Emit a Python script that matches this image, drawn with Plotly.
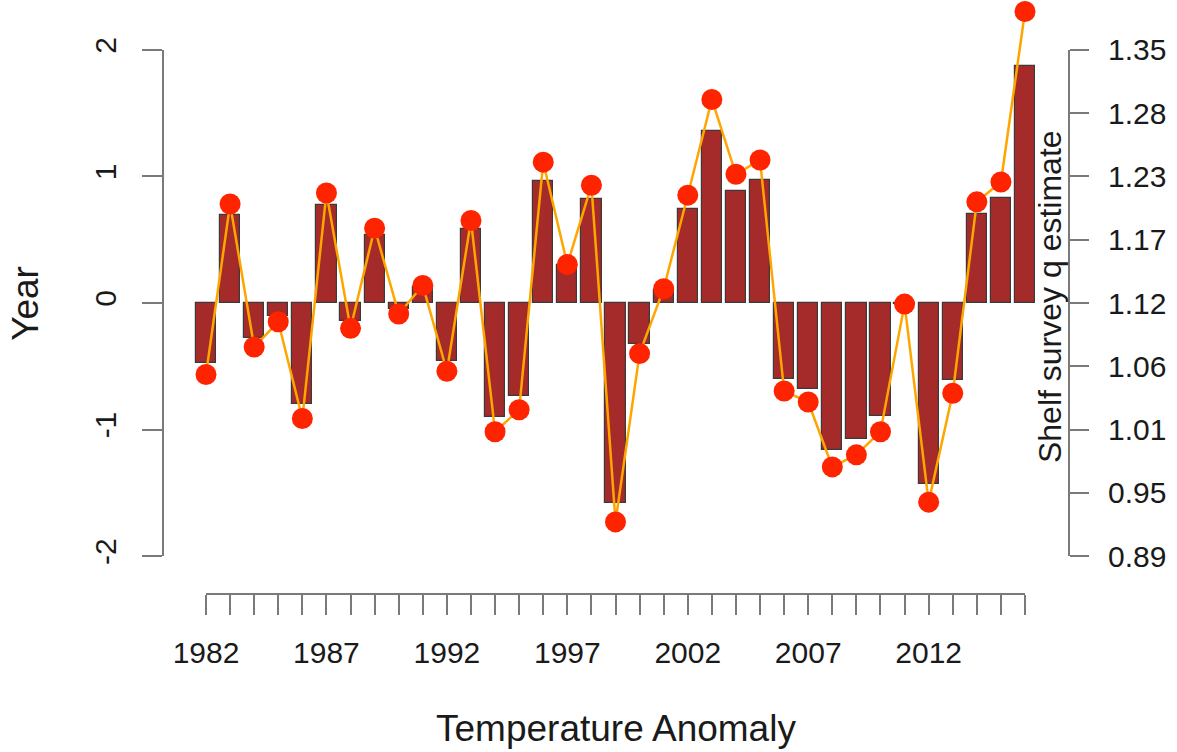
import plotly.graph_objects as go

# ---- data ----
years = list(range(1982, 2017))
temp_anomaly = [-0.475, 0.694, -0.277, -0.10, -0.80, 0.772, -0.146, 0.539, -0.044, 0.13,
                -0.46, 0.583, -0.897, -0.734, 0.967, 0.297, 0.82, -1.582, -0.32, 0.10,
                0.743, 1.363, 0.886, 0.973, -0.603, -0.676, -1.16, -1.072, -0.894, -0.01,
                -1.428, -0.612, 0.705, 0.83, 1.87]
q_estimate = [1.055, 1.210, 1.080, 1.103, 1.015, 1.220, 1.097, 1.188, 1.110, 1.136,
              1.058, 1.195, 1.003, 1.023, 1.248, 1.155, 1.227, 0.921, 1.074, 1.133,
              1.218, 1.305, 1.237, 1.250, 1.040, 1.030, 0.971, 0.982, 1.003, 1.119,
              0.939, 1.038, 1.212, 1.230, 1.385]
x_tick_labels = ["1982", "1987", "1992", "1997", "2002", "2007", "2012"]
left_tick_vals = [-2, -1, 0, 1, 2]
right_tick_labels = ["0.89", "0.95", "1.01", "1.06", "1.12", "1.17", "1.23", "1.28", "1.35"]

# ---- scales ----
L_MIN, L_MAX = -2.300, 2.395          # left axis visible range
Q_LO, Q_HI = 0.89, 1.35               # right axis values matching left -2..2
q_mid = (Q_LO + Q_HI) / 2
q_per_unit = (Q_HI - Q_LO) / 4
right_range = [q_mid + q_per_unit * L_MIN, q_mid + q_per_unit * L_MAX]
n_rt = len(right_tick_labels)
right_tick_vals = [Q_LO + (Q_HI - Q_LO) * i / (n_rt - 1) for i in range(n_rt)]

x_ticktext = [str(y) if str(y) in x_tick_labels else "" for y in years]

FONT = "Liberation Sans, Arial, Helvetica, sans-serif"
AX = "#7a7a7a"

fig = go.Figure()
fig.add_trace(go.Bar(
    x=years, y=temp_anomaly, width=0.84,
    marker=dict(color="#A52A2A", line=dict(color="#3a3a3a", width=1.2)),
    yaxis="y", showlegend=False, hoverinfo="x+y",
))
fig.add_trace(go.Scatter(
    x=years, y=q_estimate, mode="lines+markers", yaxis="y2",
    line=dict(color="#FFA500", width=2.5),
    marker=dict(color="#FF2400", size=21),
    showlegend=False,
))

fig.update_layout(
    width=1177, height=752,
    margin=dict(l=163, r=108, t=0, b=158),
    paper_bgcolor="white", plot_bgcolor="white",
    font=dict(family=FONT, size=30, color="#1a1a1a"),
    bargap=0,
    xaxis=dict(
        range=[1980.215, 2017.826], showgrid=False, zeroline=False, showline=False,
        tickmode="array", tickvals=years, ticktext=x_ticktext,
        ticks="outside", ticklen=20, tickwidth=2, tickcolor=AX,
        tickfont=dict(size=30), ticklabelstandoff=12,
    ),
    yaxis=dict(
        range=[L_MIN, L_MAX], showgrid=False, zeroline=False, showline=False,
        tickmode="array", tickvals=left_tick_vals, ticktext=[str(v) for v in left_tick_vals],
        ticks="outside", ticklen=20, tickwidth=2, tickcolor=AX,
        tickangle=-90, tickfont=dict(size=30), ticklabelstandoff=14,
    ),
    yaxis2=dict(
        range=right_range, overlaying="y", side="right",
        showgrid=False, zeroline=False, showline=False,
        tickmode="array", tickvals=right_tick_vals, ticktext=right_tick_labels,
        ticks="outside", ticklen=19, tickwidth=2, tickcolor=AX,
        tickfont=dict(size=30), ticklabelstandoff=13,
    ),
    shapes=[
        dict(type="line", xref="paper", yref="y", x0=0, x1=0, y0=-2, y1=2,
             line=dict(color=AX, width=2)),
        dict(type="line", xref="paper", yref="y", x0=1, x1=1, y0=-2, y1=2,
             line=dict(color=AX, width=2)),
        dict(type="line", xref="x", yref="paper", x0=years[0], x1=years[-1], y0=0, y1=0,
             line=dict(color=AX, width=2)),
    ],
    annotations=[
        dict(text="Year", xref="paper", yref="y", x=-0.1525, y=0, textangle=-90,
             showarrow=False, font=dict(size=37), xanchor="center", yanchor="middle"),
        dict(text="Temperature Anomaly", xref="paper", yref="paper", x=0.5, y=-0.2256,
             showarrow=False, font=dict(size=37), xanchor="center", yanchor="middle"),
        dict(text="Shelf survey q estimate", xref="paper", yref="y", x=0.979, y=0.055,
             textangle=-90, showarrow=False, font=dict(size=32),
             xanchor="center", yanchor="middle"),
    ],
)

fig.write_html("out.html")
